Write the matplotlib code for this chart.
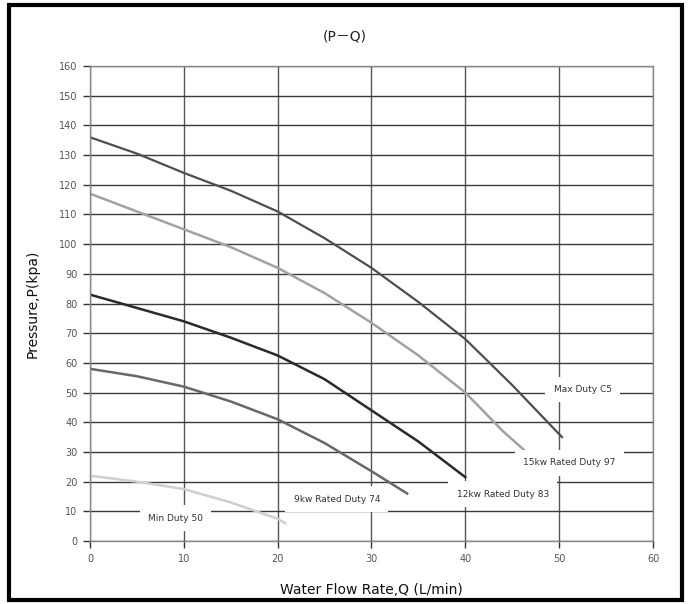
import matplotlib.pyplot as plt
from matplotlib.patches import Rectangle

# curve data (flow L/min, pressure kPa)
max_q = [0, 5, 10, 15, 20, 25, 30, 35, 40, 45, 50.3]
max_p = [136, 130.5, 124, 118, 111, 102, 92, 80.5, 68, 52.5, 35]

kw15_q = [0, 5, 10, 15, 20, 25, 30, 35, 40, 44, 46.5]
kw15_p = [117, 111, 105, 99, 92, 83.5, 73.5, 62.5, 50, 37, 30]

kw12_q = [0, 5, 10, 15, 20, 25, 30, 35, 40]
kw12_p = [83, 78.5, 74, 68.5, 62.5, 54.5, 44, 33.5, 21.5]

kw9_q = [0, 5, 10, 15, 20, 25, 30, 33.8]
kw9_p = [58, 55.5, 52, 47, 41, 33, 23.5, 16]

min_q = [0, 5, 10, 15, 20, 20.8]
min_p = [22, 20, 17.5, 13, 7.5, 6]

labels = ["Max Duty C5", "15kw Rated Duty 97", "12kw Rated Duty 83", "9kw Rated Duty 74", "Min Duty 50"]
label_pos = [(52.5, 51), (51.1, 26.3), (44.0, 15.8), (26.3, 14.1), (9.1, 7.7)]

x_ticks = [0, 10, 20, 30, 40, 50, 60]
y_ticks = list(range(0, 170, 10))

fig = plt.figure(figsize=(6.9, 6.04), dpi=100)
fig.patch.set_facecolor("white")
# thick outer frame
fig.patches.append(Rectangle((0.013, 0.007), 0.975, 0.985, transform=fig.transFigure,
                             fill=False, edgecolor="black", linewidth=3))

ax = fig.add_axes([0.1304, 0.1043, 0.816, 0.7864])

ax.set_xlim(0, 60)
ax.set_ylim(0, 160)
ax.set_xticks(x_ticks)
ax.set_yticks(y_ticks)
ax.grid(axis="y", color="#3a3a3a", linewidth=1.0)
ax.grid(axis="x", color="#555555", linewidth=1.0)
ax.set_axisbelow(True)
for s in ax.spines.values():
    s.set_color("#888888")
    s.set_linewidth(1.0)
ax.tick_params(axis="both", colors="#333333", labelsize=7, length=5, width=1, pad=4)
for t in ax.get_xticklabels() + ax.get_yticklabels():
    t.set_color("#555555")

ax.plot(max_q, max_p, color="#4e4e4e", linewidth=1.6)
ax.plot(kw15_q, kw15_p, color="#a2a2a2", linewidth=1.8)
ax.plot(kw12_q, kw12_p, color="#2a2a2a", linewidth=1.8)
ax.plot(kw9_q, kw9_p, color="#686868", linewidth=1.8)
ax.plot(min_q, min_p, color="#cfcfcf", linewidth=1.8)

for txt, (x, y) in zip(labels, label_pos):
    ax.text(x, y, txt, fontsize=6.5, color="#333333", ha="center", va="center",
            bbox=dict(facecolor="white", edgecolor="none", pad=6))

fig.text(0.5, 0.939, "(P－Q)", ha="center", va="center", fontsize=10, color="#222222",
         family=["DejaVu Sans", "Noto Sans CJK JP"])
ax.set_xlabel("Water Flow Rate,Q (L/min)", fontsize=10, color="#111111", labelpad=14)
ax.set_ylabel("Pressure,P(kpa)", fontsize=10, color="#111111", labelpad=14)

plt.savefig("out.png", dpi=100)
